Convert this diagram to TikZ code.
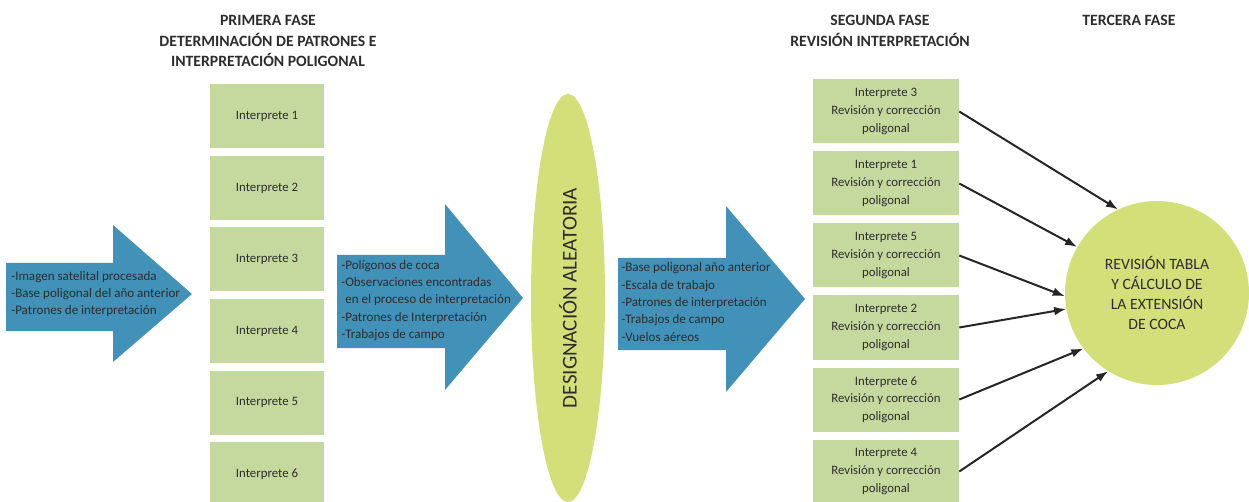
\documentclass[tikz,border=0pt]{standalone}
\usepackage{fontspec}
\setmainfont{Carlito}
\usetikzlibrary{arrows.meta, positioning, shapes.geometric}
\definecolor{fblue}{RGB}{66,145,184}
\definecolor{fgreen}{RGB}{197,216,157}
\definecolor{flime}{RGB}{211,224,121}
\definecolor{ftext}{RGB}{45,45,45}

\begin{document}
\begin{tikzpicture}[x=0.75pt, y=-0.75pt,
  caja/.style={fill=fgreen, minimum width=85.5pt, minimum height=48pt, inner sep=0pt,
    font=\fontsize{9.6}{13.2}\selectfont, text=ftext, align=center},
  cajab/.style={caja, minimum width=109.5pt},
  fase/.style={font=\fontsize{11.8}{15.5}\selectfont\bfseries, text=ftext, align=center},
  lista/.style={font=\fontsize{9.8}{13}\selectfont, text=ftext, align=left, anchor=west, inner sep=0pt},
  flecha/.style={fill=fblue},
  conector/.style={-{Latex[length=9pt,width=6.5pt]}, line width=1.5pt, black!85}
]
  \useasboundingbox (0,0) rectangle (1249,502);

  % titulos de las fases
  \node[fase] (fase1) at (268,41) {PRIMERA FASE\\DETERMINACIÓN DE PATRONES E\\INTERPRETACIÓN POLIGONAL};
  \node[fase] (fase2) at (880,31) {SEGUNDA FASE\\REVISIÓN INTERPRETACIÓN};
  \node[fase] (fase3) at (1129,20) {TERCERA FASE};

  % flechas de bloque
  \fill[flecha] (6,263) -- (113,263) -- (113,225) -- (192,294) -- (113,362) -- (113,331) -- (6,331) -- cycle;
  \fill[flecha] (337,255) -- (445,255) -- (445,204) -- (523,298) -- (445,390) -- (445,348) -- (337,348) -- cycle;
  \fill[flecha] (618,258) -- (726,258) -- (726,206) -- (805,299) -- (726,392) -- (726,350) -- (618,350) -- cycle;

  \node[lista] (entrada) at (11,294) {-Imagen satelital procesada\\-Base poligonal del año anterior\\-Patrones de interpretación};
  \node[lista] (insumos) at (341,300.5) {-Polígonos de coca\\-Observaciones encontradas\\\hspace{3pt}en el proceso de interpretación\\-Patrones de Interpretación\\-Trabajos de campo};
  \node[lista] (revision) at (621,302) {-Base poligonal año anterior\\-Escala de trabajo\\-Patrones de interpretación\\-Trabajos de campo\\-Vuelos aéreos};

  % primera fase
  \foreach \k in {1,...,6}
    \node[caja] (int\k) at (267,{116.5+71.5*(\k-1)}) {Interprete \k};

  % designacion aleatoria
  \node[ellipse, fill=flime, rotate=90, minimum width=306pt, minimum height=55.5pt, inner sep=0pt,
    font=\fontsize{15.8}{18}\selectfont, text=ftext] (azar) at (568,298) {DESIGNACIÓN ALEATORIA};

  % segunda fase
  \foreach \k/\n in {1/3,2/1,3/5,4/2,5/6,6/4}
    \node[cajab] (rev\k) at (886,{111.5+72*(\k-1)}) {Interprete \n\\Revisión y corrección\\poligonal};

  % tercera fase
  \node[circle, fill=flime, minimum size=138pt, inner sep=0pt, align=center,
    font=\fontsize{11.8}{15}\selectfont, text=ftext] (calculo) at (1157,293)
    {REVISIÓN TABLA\\Y CÁLCULO DE\\LA EXTENSIÓN\\DE COCA};

  \foreach \k/\a in {1/115,2/150,3/182,4/190,5/217,6/238}
    \draw[conector] (rev\k.east) -- (calculo.\a);
\end{tikzpicture}
\end{document}
